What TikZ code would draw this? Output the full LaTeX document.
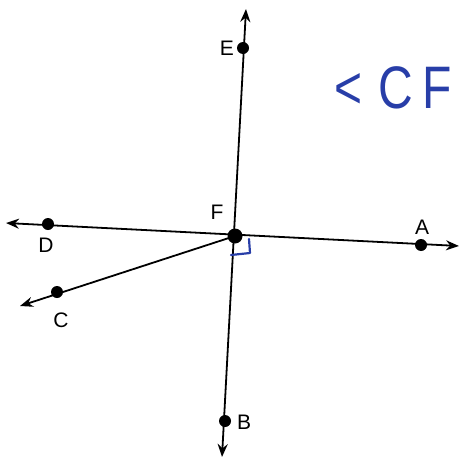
\documentclass[tikz,border=0pt]{standalone}
\usepackage{fontspec}
\setmainfont{Liberation Sans}
\usetikzlibrary{arrows.meta}
\definecolor{penblue}{RGB}{40,62,168}
\tikzset{
  dot/.style={circle, fill=black, inner sep=0pt, minimum size=12pt},
  lbl/.style={font=\fontsize{21}{23}\selectfont},
  line2/.style={line width=1.8pt, {Stealth[length=13pt,width=10pt]}-{Stealth[length=13pt,width=10pt]}},
  ray/.style={line width=1.8pt, -{Stealth[length=13pt,width=10pt]}},
  pen/.style={draw=penblue, line width=2.2pt, line cap=round, line join=round},
}
\begin{document}
\begin{tikzpicture}[x=1pt, y=-1pt]
  \useasboundingbox (0,0) rectangle (459,460);
  % ends of the lines
  \coordinate (Etip) at (246,9);
  \coordinate (Btip) at (222,457);
  \coordinate (Dtip) at (6,223);
  \coordinate (Atip) at (459,246);
  \coordinate (Ctip) at (20,306);
  \coordinate (Fc) at (235,236);
  \draw[line2] (Btip) -- (Etip);
  \draw[line2] (Dtip) -- (Atip);
  \draw[ray] (Fc) -- (Ctip);
  % right angle mark
  \coordinate (R1) at (231,255);
  \coordinate (R2) at (250,253);
  \coordinate (R3) at (249,239);
  \draw[pen] (R1) -- (R2) -- (R3);
  % points
  \node[dot] (E) at (243,48) {};
  \node[dot, minimum size=15pt] (F) at (Fc) {};
  \node[dot] (A) at (421,245) {};
  \node[dot] (D) at (48,224) {};
  \node[dot] (C) at (57,292) {};
  \node[dot] (B) at (225,421) {};
  % labels
  \node[lbl] (Elbl) at (227,48) {E};
  \node[lbl] (Flbl) at (217,212) {F};
  \node[lbl] (Albl) at (422,227) {A};
  \node[lbl] (Dlbl) at (46,245) {D};
  \node[lbl] (Clbl) at (61,320) {C};
  \node[lbl] (Blbl) at (244,422) {B};
  % note
  \node[text=penblue, anchor=west, inner sep=0pt, font=\fontsize{60}{62}\selectfont, xscale=0.8, transform shape] (note) at (334,88) {<\hspace{20pt}C\hspace{12pt}F};
\end{tikzpicture}
\end{document}
